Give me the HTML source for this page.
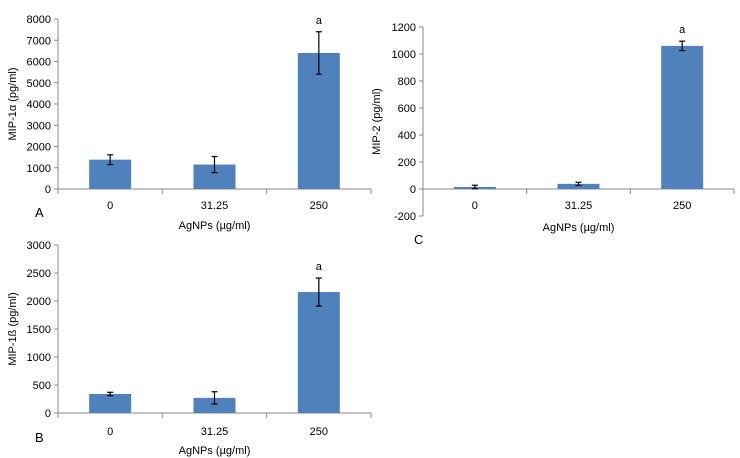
<!DOCTYPE html>
<html><head><meta charset="utf-8"><style>
body{margin:0;background:#fff}
svg{display:block;font-family:"Liberation Sans",sans-serif}
</style></head><body>
<svg id="s" width="740" height="458" viewBox="0 0 740 458"></svg>
<script>
const categories=["0","31.25","250"];
const valuesA=[1380,1150,6400];
const errorsA=[230,380,1000];
const ticksA=[0,1000,2000,3000,4000,5000,6000,7000,8000];
const valuesB=[340,270,2160];
const errorsB=[30,110,250];
const ticksB=[0,500,1000,1500,2000,2500,3000];
const valuesC=[15,38,1060];
const errorsC=[13,12,35];
const ticksC=[-200,0,200,400,600,800,1000,1200];
const sigLabels=["","","a"];
const NS="http://www.w3.org/2000/svg";
const svg=document.getElementById('s');
function mk(t,a,p){const e=document.createElementNS(NS,t);for(const k in a)e.setAttribute(k,a[k]);(p||svg).appendChild(e);return e;}
function chart(o){
  const g=mk('g',{});
  
  
  const min=o.ticks[0],max=o.ticks[o.ticks.length-1];
  const y=v=>o.yb-(v-min)/(max-min)*(o.yb-o.yt);
  const band=(o.xr-o.xl)/categories.length;
  const xc=i=>o.xl+band*(i+0.5);
  const ya=mk('line',{x1:o.xl,x2:o.xl,y1:o.yt,y2:o.yb,stroke:'#888','stroke-width':1},g);
  
  o.ticks.forEach(t=>{
    mk('line',{x1:o.xl-4,x2:o.xl,y1:y(t),y2:y(t),stroke:'#888'},g);
    const tx=mk('text',{x:o.xl-7,y:y(t)+4,'text-anchor':'end','font-size':11,fill:'#000'},g);
    tx.textContent=t;
    
  });
  const y0=y(0);
  const xa=mk('line',{x1:o.xl,x2:o.xr,y1:y0,y2:y0,stroke:'#888'},g);
  
  for(let i=0;i<=categories.length;i++){
    mk('line',{x1:o.xl+band*i,x2:o.xl+band*i,y1:y0,y2:y0+5,stroke:'#888'},g);
  }
  categories.forEach((c,i)=>{
    const v=o.values[i],e=o.errors[i];
    const r=mk('rect',{x:xc(i)-21,y:Math.min(y(v),y0),width:42,height:Math.abs(y0-y(v)),fill:'#4f81bd'},g);
    
    const eg=mk('g',{stroke:'#000','stroke-width':1.2},g);
    
    mk('line',{x1:xc(i),x2:xc(i),y1:y(v+e),y2:y(v-e)},eg);
    mk('line',{x1:xc(i)-3,x2:xc(i)+3,y1:y(v+e),y2:y(v+e)},eg);
    mk('line',{x1:xc(i)-3,x2:xc(i)+3,y1:y(v-e),y2:y(v-e)},eg);
    if(sigLabels[i]){const s=mk('text',{x:xc(i),y:y(v+e)-8,'text-anchor':'middle','font-size':11},g);s.textContent=sigLabels[i];
      }
    const t=mk('text',{x:xc(i),y:o.xlab,'text-anchor':'middle','font-size':11},g);t.textContent=c;
    
  });
  const xt=mk('text',{x:(o.xl+o.xr)/2,y:o.xtitle,'text-anchor':'middle','font-size':11},g);xt.textContent='AgNPs (µg/ml)';
  
  const ym=(o.yt+o.yb)/2;
  const yt=mk('text',{x:o.ytx,y:ym,'text-anchor':'middle','font-size':11,transform:`rotate(-90 ${o.ytx} ${ym})`},g);yt.textContent=o.ytitle;
  
  const pl=mk('text',{x:o.px,y:o.py,'font-size':13},g);pl.textContent=o.panel;
  
}
chart({name:'chart-a',values:valuesA,errors:errorsA,ticks:ticksA,xl:58,xr:371,yt:19,yb:189,xlab:209,xtitle:229,ytitle:'MIP-1α (pg/ml)',ytx:16,panel:'A',px:35,py:217});
chart({name:'chart-b',values:valuesB,errors:errorsB,ticks:ticksB,xl:58,xr:371,yt:245,yb:413,xlab:435,xtitle:454,ytitle:'MIP-1ß (pg/ml)',ytx:16,panel:'B',px:35,py:442});
chart({name:'chart-c',values:valuesC,errors:errorsC,ticks:ticksC,xl:423,xr:734,yt:27,yb:216,xlab:209,xtitle:231,ytitle:'MIP-2 (pg/ml)',ytx:380,panel:'C',px:414,py:244});
</script>
</body></html>
